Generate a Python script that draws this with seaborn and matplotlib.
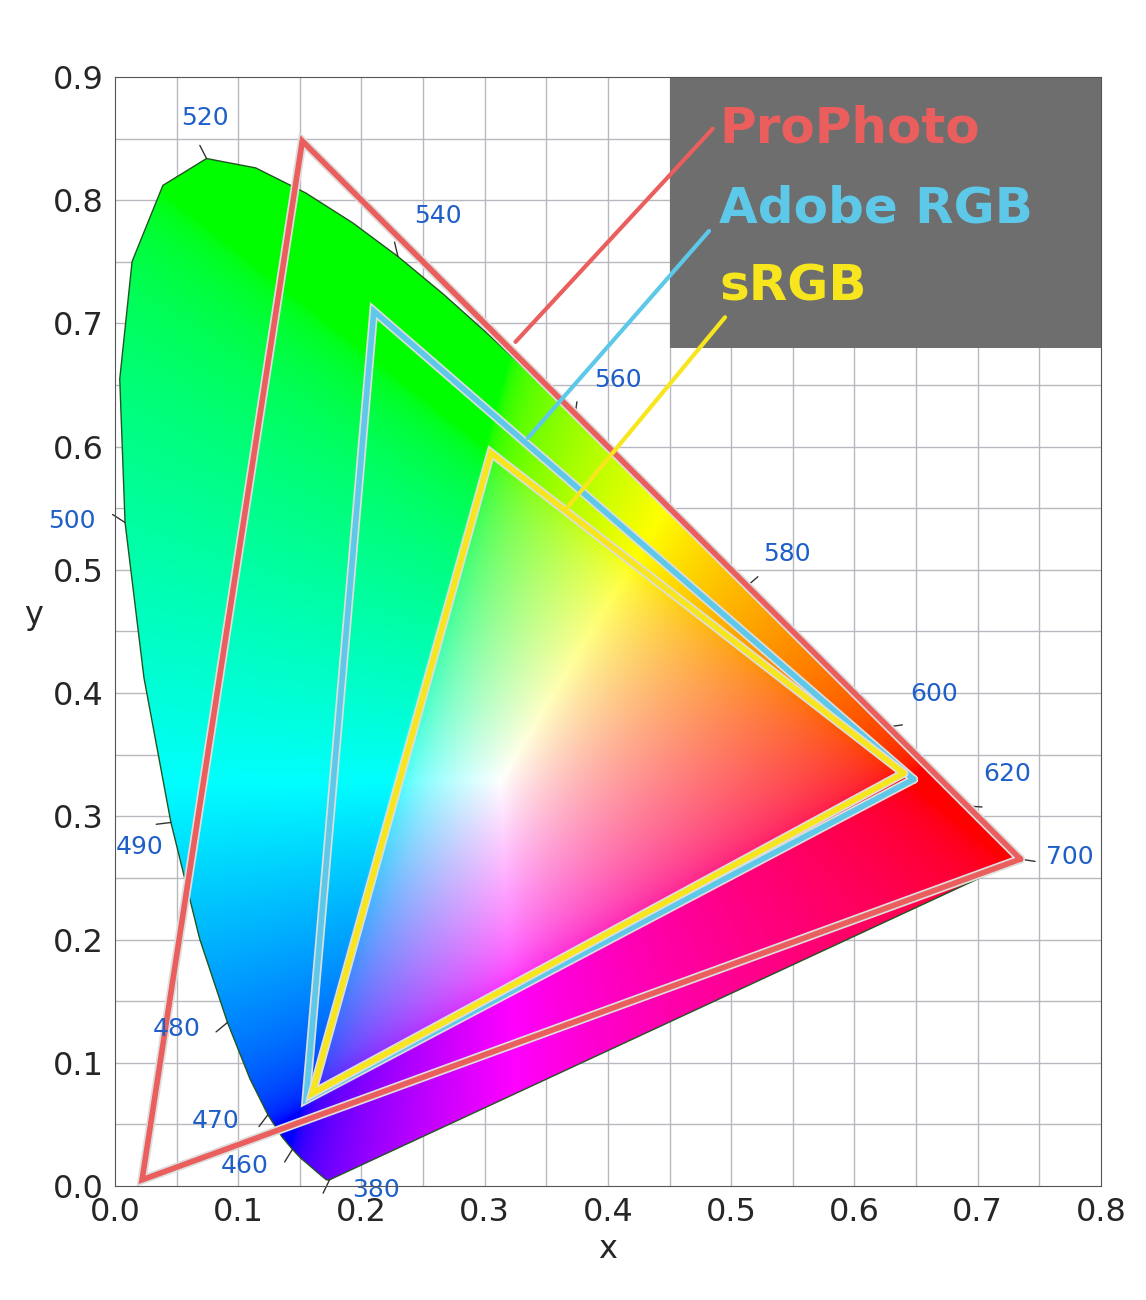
import numpy as np
import pandas as pd
import matplotlib
matplotlib.use("Agg")
import matplotlib.pyplot as plt
import seaborn as sns
from matplotlib.path import Path
from matplotlib.patches import PathPatch, Rectangle
import matplotlib.patheffects as pe

sns.set_style("white")
plt.rcParams['font.family'] = ['DejaVu Sans']

# spectral locus (CIE 1931)
wl = [380, 400, 420, 440, 450, 455, 460, 465, 470, 475, 480, 485, 490, 495, 500, 505, 510, 515, 520, 525, 530,
      535, 540, 545, 550, 555, 560, 565, 570, 575, 580, 585, 590, 595, 600, 610, 620, 640, 660, 700]
lx = [0.1741, 0.1733, 0.1714, 0.1644, 0.1566, 0.1510, 0.1440, 0.1355, 0.1241, 0.1096, 0.0913, 0.0687, 0.0454, 0.0235,
      0.0082, 0.0039, 0.0139, 0.0389, 0.0743, 0.1142, 0.1547, 0.1929, 0.2296, 0.2658, 0.3016, 0.3373,
      0.3731, 0.4087, 0.4441, 0.4788, 0.5125, 0.5448, 0.5752, 0.6029, 0.6270, 0.6658, 0.6915, 0.7190, 0.7300, 0.7347]
ly = [0.0050, 0.0048, 0.0051, 0.0109, 0.0177, 0.0223, 0.0297, 0.0399, 0.0578, 0.0868, 0.1327, 0.2007, 0.2950, 0.4127,
      0.5384, 0.6548, 0.7502, 0.8120, 0.8338, 0.8262, 0.8059, 0.7816, 0.7543, 0.7243, 0.6923, 0.6589,
      0.6245, 0.5896, 0.5547, 0.5202, 0.4866, 0.4544, 0.4242, 0.3965, 0.3725, 0.3340, 0.3083, 0.2809, 0.2700, 0.2653]

label_wl = [380, 460, 470, 480, 490, 500, 520, 540, 560, 580, 600, 620, 700]
label_x = [0.212, 0.105, 0.082, 0.05, 0.02, -0.035, 0.073, 0.262, 0.408, 0.545, 0.665, 0.724, 0.775]
label_y = [-0.003, 0.016, 0.053, 0.127, 0.275, 0.540, 0.867, 0.787, 0.654, 0.513, 0.399, 0.334, 0.267]

gamuts = ["ProPhoto", "Adobe RGB", "sRGB"]
gx = [[0.7347, 0.1520, 0.0220], [0.6480, 0.2100, 0.1550], [0.6400, 0.3050, 0.1600]]
gy = [[0.2653, 0.8480, 0.0050], [0.3300, 0.7100, 0.0700], [0.3350, 0.5950, 0.0750]]
gcol = ["#ea5e5e", "#5ec8e8", "#f7e61e"]

fig = plt.figure(figsize=(11.46, 13.0), dpi=100)
ax = fig.add_axes([0.1003, 0.0877, 0.8604, 0.8531])
ax.set_xlim(0, 0.8)
ax.set_ylim(0, 0.9)

for v in np.arange(0.05, 0.8, 0.05):
    ax.axvline(v, color="#b8b8c0", lw=1, zorder=0)
for v in np.arange(0.05, 0.9, 0.05):
    ax.axhline(v, color="#b8b8c0", lw=1, zorder=0)

# colour fill
n = 500
xs = np.linspace(0, 0.8, n)
ys = np.linspace(0.001, 0.9, n)
X, Y = np.meshgrid(xs, ys)
Xc = X / Y
Zc = (1 - X - Y) / Y
M = np.array([[3.2406, -1.5372, -0.4986], [-0.9689, 1.8758, 0.0415], [0.0557, -0.2040, 1.0570]])
rgb = np.stack([M[i, 0] * Xc + M[i, 1] * 1 + M[i, 2] * Zc for i in range(3)], axis=-1)
rgb = np.clip(rgb, 0, None)
rgb = rgb / rgb.max(axis=-1, keepdims=True).clip(1e-6)
rgb = np.where(rgb <= 0.0031308, 12.92 * rgb, 1.055 * rgb ** (1 / 2.4) - 0.055)
rgb = np.clip(rgb, 0, 1)
im = ax.imshow(rgb, origin="lower", extent=(0, 0.8, 0.001, 0.9), aspect="auto", zorder=1, interpolation="bilinear")
verts = list(zip(lx, ly)) + [(lx[0], ly[0])]
poly = PathPatch(Path(verts), facecolor="none", edgecolor="#225522", lw=1, zorder=2, joinstyle="round")
ax.add_patch(poly)
im.set_clip_path(poly)

cx, cy = 0.33, 0.33
for w, tx, ty in zip(label_wl, label_x, label_y):
    i = wl.index(w)
    px, py = lx[i], ly[i]
    dx, dy = px - cx, py - cy
    d = np.hypot(dx, dy)
    ax.plot([px, px + 0.012 * dx / d], [py, py + 0.012 * dy / d], color="#333333", lw=1, zorder=3, clip_on=False)
    ax.text(tx, ty, str(w), color="#1f5fc8", fontsize=18, ha="center", va="center", zorder=5, clip_on=False)

ax.add_patch(Rectangle((0.45, 0.68), 0.35, 0.22, facecolor="#6e6e6e", edgecolor="none", zorder=3))

for name, xx, yy, c in zip(gamuts, gx, gy, gcol):
    df = pd.DataFrame({"x": xx + [xx[0]], "y": yy + [yy[0]], "o": [0, 1, 2, 3]})
    sns.lineplot(data=df, x="x", y="y", sort=False, estimator=None, units="o", color=c, lw=4, ax=ax, zorder=4,
                 path_effects=[pe.Stroke(linewidth=6, foreground="#dddddd"), pe.Normal()])
    ax.plot(df["x"], df["y"], color=c, lw=4, zorder=4, solid_joinstyle="miter",
            path_effects=[pe.Stroke(linewidth=6.5, foreground="#dddddd"), pe.Normal()])

lead = [((0.485, 0.858), (0.325, 0.685)), ((0.482, 0.775), (0.335, 0.607)), ((0.495, 0.705), (0.365, 0.548))]
name_pos = [(0.49, 0.858), (0.49, 0.793), (0.49, 0.73)]
for name, c, (a, b), (tx, ty) in zip(gamuts, gcol, lead, name_pos):
    ax.plot([a[0], b[0]], [a[1], b[1]], color=c, lw=3, zorder=4)
    ax.text(tx, ty, name, color=c, fontsize=36, fontweight="bold", ha="left", va="center", zorder=5)

ticks_x = np.arange(0, 0.81, 0.1)
ticks_y = np.arange(0, 0.91, 0.1)
ax.set_xticks(ticks_x)
ax.set_yticks(ticks_y)
ax.set_xticklabels([f"{v:.1f}" for v in ticks_x], fontsize=23)
ax.set_yticklabels([f"{v:.1f}" for v in ticks_y], fontsize=23)
ax.tick_params(length=0, pad=8)
ax.set_xlabel("x", fontsize=23, labelpad=4)
ax.set_ylabel("y", fontsize=23, rotation=0, labelpad=14)
for s in ax.spines.values():
    s.set_color("#555555")
    s.set_zorder(6)

fig.savefig("out.png", dpi=100)
